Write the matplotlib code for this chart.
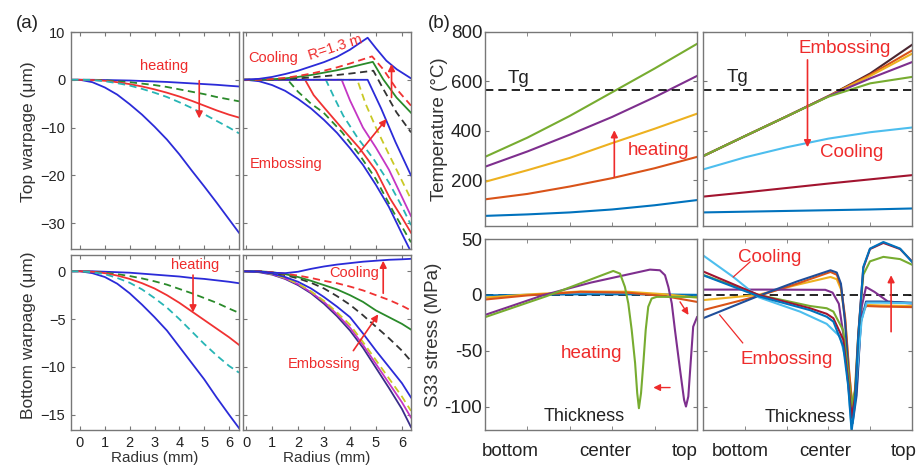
import matplotlib
matplotlib.use('Agg')
import matplotlib.pyplot as plt

plt.rcParams['font.family'] = ['Liberation Sans', 'DejaVu Sans']

# ---------------- (a) warpage data ----------------
xa = [-0.35, 0, 0.5, 1, 1.5, 2, 2.5, 3, 3.5, 4, 4.5, 5, 5.5, 6, 6.4]

# top warpage, heating
top_heat_big = [0, 0, -0.5, -1.6, -3.1, -5.1, -7.3, -9.8, -12.5, -15.6, -19.0, -22.3, -25.7, -29.2, -32.0]
top_heat_small = [0, 0, 0, -0.05, -0.1, -0.15, -0.25, -0.35, -0.45, -0.6, -0.75, -0.9, -1.05, -1.25, -1.4]
top_heat_green = [0, 0, 0, -0.1, -0.3, -0.5, -0.8, -1.1, -1.5, -2.0, -2.5, -3.0, -3.6, -4.1, -4.5]
top_heat_red = [0, 0, -0.05, -0.2, -0.5, -0.9, -1.4, -2.0, -2.7, -3.5, -4.4, -5.4, -6.4, -7.3, -7.9]
top_heat_cyan = [0, 0, -0.05, -0.3, -0.7, -1.2, -1.9, -2.7, -3.6, -4.7, -5.9, -7.2, -8.6, -10.0, -11.2]

# top warpage, embossing / cooling
xb = [-0.12, 0, 0.5, 1, 1.5, 2, 2.5, 3, 3.5, 4, 4.5, 5, 5.5, 6, 6.35]
emb_big = [0, 0, -0.3, -1.1, -2.3, -4.0, -6.0, -8.4, -11.1, -14.3, -17.8, -22.0, -26.6, -32.2, -36.0]

cool_blue_x = [-0.12, 0.5, 1, 1.5, 2, 2.5, 3, 3.5, 4, 4.35, 4.68, 5.0, 5.4, 5.8, 6.35]
cool_blue_y = [0, 0.2, 0.6, 1.2, 1.9, 2.8, 3.7, 4.8, 6.3, 7.6, 8.8, 6.6, 4.0, 2.2, 0.3]
cool_red_x = [-0.12, 0.5, 1, 1.5, 2, 2.5, 3, 3.5, 4, 4.45, 4.85, 5.28, 5.79, 6.35]
cool_red_y = [0, 0, 0.15, 0.4, 0.8, 1.3, 1.9, 2.6, 3.4, 4.2, 4.9, 2.2, -1.9, -5.4]
cool_green_x = [-0.12, 0.5, 1, 1.5, 2, 2.5, 3, 3.5, 4, 4.45, 4.88, 5.28, 5.79, 6.35]
cool_green_y = [0, 0, 0.1, 0.3, 0.6, 1.0, 1.5, 2.0, 2.6, 3.2, 3.75, 0.1, -3.7, -6.9]
cool_black_x = [-0.12, 0.5, 1, 1.5, 2, 2.5, 3, 3.5, 4, 4.45, 4.9, 5.28, 5.79, 6.35]
cool_black_y = [0, 0, 0.05, 0.15, 0.3, 0.5, 0.75, 1.0, 1.3, 1.6, 1.9, -1.9, -6.8, -11.0]

emb_blue_x = [-0.12, 4.68, 5.2, 5.75, 6.35]
emb_blue_y = [0, 0, -6.0, -13.0, -20.0]
emb_yellow_x = [-0.12, 4.28, 4.6, 5.0, 5.4, 5.9, 6.35]
emb_yellow_y = [0, 0, -5.0, -10.0, -14.5, -20.0, -25.0]
emb_magenta_x = [-0.12, 3.68, 4.0, 4.5, 5.0, 5.5, 6.0, 6.35]
emb_magenta_y = [0, 0, -4.3, -10.0, -14.2, -18.8, -24.5, -28.5]
emb_cyan_x = [-0.12, 3.07, 3.4, 3.74, 4.3, 4.9, 5.5, 6.0, 6.35]
emb_cyan_y = [0, 0, -3.8, -7.5, -12.2, -16.5, -21.5, -26.5, -30.4]
emb_red_x = [-0.12, 2.27, 2.6, 3.05, 3.7, 4.38, 5.0, 5.54, 6.0, 6.35]
emb_red_y = [0, 0, -3.2, -6.1, -10.2, -14.4, -19.0, -24.8, -28.8, -32.0]
emb_green_x = [-0.12, 1.6, 2.0, 2.5, 2.97, 3.7, 4.38, 5.0, 5.67, 6.35]
emb_green_y = [0, 0, -2.5, -5.0, -6.8, -11.0, -15.8, -20.8, -27.6, -34.0]

# bottom warpage, heating
bot_heat_big = [0, 0, -0.2, -0.6, -1.3, -2.3, -3.5, -4.8, -6.2, -7.9, -9.6, -11.3, -13.2, -15.0, -16.4]
bot_heat_small = [0, 0, 0, -0.05, -0.1, -0.15, -0.25, -0.35, -0.45, -0.55, -0.7, -0.8, -0.95, -1.1, -1.25]
bot_heat_green = [0, 0, -0.05, -0.15, -0.3, -0.5, -0.75, -1.05, -1.4, -1.85, -2.3, -2.8, -3.3, -3.9, -4.35]
bot_heat_red = [0, 0, -0.05, -0.2, -0.45, -0.8, -1.25, -1.8, -2.5, -3.3, -4.2, -5.1, -6.0, -6.9, -7.7]
bot_heat_cyan = [0, 0, -0.1, -0.3, -0.7, -1.2, -1.9, -2.8, -3.8, -5.0, -6.3, -7.6, -8.8, -9.9, -10.6]

# bottom warpage, embossing / cooling
xc = [-0.12, 0.5, 1, 1.5, 2, 2.5, 3, 3.5, 4, 4.5, 5, 5.5, 6, 6.35]
bot_cool_blue = [0, -0.02, -0.15, -0.2, -0.05, 0.25, 0.5, 0.7, 0.85, 1.0, 1.1, 1.2, 1.25, 1.3]
bot_cool_red = [0, 0, -0.1, -0.25, -0.45, -0.7, -1.0, -1.25, -1.6, -2.0, -2.5, -3.0, -3.6, -4.1]
bot_cool_green = [0, 0, -0.1, -0.3, -0.6, -1.0, -1.45, -1.9, -2.5, -3.2, -4.1, -4.8, -5.5, -6.1]
bot_cool_black = [0, 0, -0.15, -0.4, -0.75, -1.2, -1.8, -2.6, -3.5, -4.6, -5.8, -7.0, -8.3, -9.4]
bot_emb_blue = [0, -0.05, -0.25, -0.6, -1.1, -1.8, -2.7, -3.7, -4.8, -6.5, -8.3, -10.0, -11.7, -13.2]
bot_emb_yellow = [0, -0.05, -0.3, -0.7, -1.3, -2.1, -3.1, -4.3, -5.6, -7.4, -9.3, -11.2, -13.1, -14.6]
bot_emb_magenta = [0, -0.05, -0.3, -0.75, -1.35, -2.2, -3.2, -4.5, -5.9, -7.7, -9.7, -11.7, -13.7, -15.3]
bot_emb_big = [0, -0.1, -0.35, -0.8, -1.45, -2.3, -3.4, -4.7, -6.2, -8.0, -10.1, -12.2, -14.4, -16.3]

# ---------------- (b) temperature data ----------------
xt = [0, 0.2, 0.4, 0.6, 0.8, 1.0]
heat_green = [294, 372, 460, 556, 652, 752]
heat_purple = [254, 316, 384, 456, 536, 622]
heat_yellow = [193, 240, 290, 350, 408, 469]
heat_orange = [122, 144, 174, 208, 248, 294]
heat_blue = [55, 61, 69, 81, 98, 119]

emb_t_dark = [297, 378, 458, 540, 632, 748]
emb_t_orange = [297, 378, 458, 540, 627, 725]
emb_t_yellow = [297, 378, 458, 540, 622, 712]
emb_t_purple = [297, 378, 458, 540, 612, 678]
emb_t_green = [297, 378, 458, 538, 592, 618]
cool_t_cyan = [243, 292, 333, 368, 394, 413]
cool_t_darkred = [133, 150, 168, 186, 203, 220]
cool_t_blue = [69, 72, 75, 78, 81, 85]
tg = 566

# ---------------- (b) stress data ----------------
s_heat_green_x = [0, 0.29, 0.605, 0.637, 0.66, 0.676, 0.692, 0.708, 0.718, 0.726, 0.736, 0.747, 0.758, 0.77, 0.786, 0.81, 0.92, 1.0]
s_heat_green_y = [-20, -1.2, 21.4, 19, 7.1, -7.7, -31.5, -61, -88, -101.5, -88, -61, -31.5, -10.7, -3.3, -1.8, -1.8, -2.0]
s_heat_purple_x = [0, 0.275, 0.5, 0.778, 0.825, 0.849, 0.865, 0.881, 0.896, 0.92, 0.939, 0.948, 0.959, 0.97, 0.982, 1.0]
s_heat_purple_y = [-18, -0.3, 11, 22.6, 22, 17.6, 7, -7.7, -31.5, -67, -94, -100, -91, -61, -28.5, -20]
s_heat_x = [0, 0.2, 0.45, 0.67, 0.85, 1.0]
s_heat_orange = [-4.2, -0.5, 2.7, 2.0, -1.2, -6.3]
s_heat_yellow = [-2.5, 0.3, 3.0, 2.8, 0.5, -2.5]
s_heat_blue = [-0.5, 0, 0.5, 0.5, 0.3, 0]

s_x = [0, 0.265, 0.512, 0.592, 0.624, 0.671, 0.695, 0.711, 0.727, 0.743, 0.767, 0.799, 0.863, 0.943, 1.0]
s_cool_blue = [17.6, -1.2, -13.7, -19.6, -24, -46.4, -82, -122, -97, -37.5, 25, 41.4, 47.3, 41.4, 29.5]
s_cool_darkred = [21, 0, -12, -17, -21, -40, -78, -110, -92, -35, 24, 41, 46.5, 41, 30]
s_cool_green = [18, 0, -10, -12, -15, -32, -70, -100, -85, -35, 18, 30, 34, 32, 27]
s_cool_cyan_x = [0, 0.145, 0.265, 0.464, 0.592, 0.656, 0.687, 0.711, 0.735, 0.759, 0.783, 0.847, 1.0]
s_cool_cyan_y = [35.4, 16, -2.1, -15, -26, -37.5, -61, -120, -73, -22.6, -7, -7, -7.5]
s_emb_purple_x = [0, 0.3, 0.585, 0.62, 0.65, 0.675, 0.7, 0.716, 0.735, 0.76, 0.78, 0.82, 0.885, 1.0]
s_emb_purple_y = [4.7, 4.7, 4.5, 2, -8, -40, -90, -105, -85, -10, 7, 2.7, -6, -7.8]
s_emb_x = [0, 0.265, 0.45, 0.61, 0.64, 0.66, 0.68, 0.7, 0.716, 0.735, 0.755, 0.78, 0.85, 1.0]
s_emb_orange = [-13.7, -1, 10, 20.5, 18, 8, -20, -70, -103, -80, -20, -10, -10.5, -11]
s_emb_yellow = [-4.7, 0, 9, 16, 14, 5, -22, -72, -100, -78, -22, -9, -9.5, -10]
s_emb_blue = [-21, -1, 12, 22, 20, 10, -25, -80, -115, -90, -25, -6, -6, -7]

# ---------------- styles ----------------
RED = '#ee2b2b'
B, G, R, C, M, Y, K = '#2b2bd8', '#2a8a2a', '#f03232', '#27b5b5', '#c436c4', '#c9c925', '#333333'
DASH = (0, (4, 2.5))
MB, MO, MY, MP, MG, MC, MR = '#0072BD', '#D95319', '#EDB120', '#7E2F8E', '#77AC30', '#4DBEEE', '#A2142F'
SPINE = '#777777'
LWA = 1.3
LWB = 1.5

fig = plt.figure(figsize=(9.2, 4.66), dpi=100)


def box(x0, y0, x1, y1):
    return [x0 / 920, 1 - y1 / 466, (x1 - x0) / 920, (y1 - y0) / 466]


def style(ax, size):
    for s in ax.spines.values():
        s.set_color(SPINE)
        s.set_linewidth(1.0)
    ax.tick_params(direction='in', top=True, right=True, length=3, width=0.8,
                   color=SPINE, labelsize=size, labelcolor='#222222', pad=4)


def arrow(ax, start, end, lw=1.2):
    ax.annotate('', xy=end, xytext=start,
                arrowprops=dict(arrowstyle='-|>', color=RED, lw=lw,
                                mutation_scale=10, shrinkA=0, shrinkB=0))


# ---- (a) top-left
ax = fig.add_axes(box(71, 32, 239, 249))
style(ax, 10.5)
ax.plot(xa, top_heat_big, color=B, lw=LWA)
ax.plot(xa, top_heat_small, color=B, lw=LWA)
ax.plot(xa, top_heat_green, color=G, lw=LWA, ls=DASH)
ax.plot(xa, top_heat_red, color=R, lw=LWA)
ax.plot(xa, top_heat_cyan, color=C, lw=LWA, ls=DASH)
ax.set_xlim(-0.36, 6.4)
ax.set_ylim(-35.4, 10)
ax.set_xticks(range(7))
ax.set_yticks([-30, -20, -10, 0, 10])
ax.tick_params(labelbottom=False)
ax.text(3.4, 2.8, 'heating', color=RED, fontsize=10.5, ha='center', va='center')
arrow(ax, (4.8, -0.2), (4.8, -8.1))

# ---- (a) top-right
ax = fig.add_axes(box(243, 32, 411, 249))
style(ax, 10.5)
ax.plot(xb, emb_big, color=B, lw=LWA)
ax.plot(emb_green_x, emb_green_y, color=G, lw=LWA, ls=DASH)
ax.plot(emb_red_x, emb_red_y, color=R, lw=LWA)
ax.plot(emb_cyan_x, emb_cyan_y, color=C, lw=LWA, ls=DASH)
ax.plot(emb_magenta_x, emb_magenta_y, color=M, lw=LWA)
ax.plot(emb_yellow_x, emb_yellow_y, color=Y, lw=LWA, ls=DASH)
ax.plot(emb_blue_x, emb_blue_y, color=B, lw=LWA)
ax.plot(cool_black_x, cool_black_y, color=K, lw=LWA, ls=DASH)
ax.plot(cool_green_x, cool_green_y, color=G, lw=LWA)
ax.plot(cool_red_x, cool_red_y, color=R, lw=LWA, ls=DASH)
ax.plot(cool_blue_x, cool_blue_y, color=B, lw=LWA)
ax.set_xlim(-0.12, 6.35)
ax.set_ylim(-35.4, 10)
ax.set_xticks(range(7))
ax.set_yticks([-30, -20, -10, 0, 10])
ax.tick_params(labelbottom=False, labelleft=False)
ax.text(1.05, 4.65, 'Cooling', color=RED, fontsize=10.5, ha='center', va='center')
ax.text(3.42, 6.7, 'R=1.3 m', color=RED, fontsize=10.5, ha='center', va='center', rotation=18)
ax.text(1.56, -17.6, 'Embossing', color=RED, fontsize=10.5, ha='center', va='center')
arrow(ax, (5.6, -3.7), (5.6, 3.3))
arrow(ax, (4.38, -15.1), (5.41, -8.2))

# ---- (a) bottom-left
ax = fig.add_axes(box(71, 255, 239, 430))
style(ax, 10.5)
ax.plot(xa, bot_heat_big, color=B, lw=LWA)
ax.plot(xa, bot_heat_small, color=B, lw=LWA)
ax.plot(xa, bot_heat_green, color=G, lw=LWA, ls=DASH)
ax.plot(xa, bot_heat_red, color=R, lw=LWA)
ax.plot(xa, bot_heat_cyan, color=C, lw=LWA, ls=DASH)
ax.set_xlim(-0.36, 6.4)
ax.set_ylim(-16.6, 1.7)
ax.set_xticks(range(7))
ax.set_yticks([-15, -10, -5, 0])
ax.set_xlabel('Radius (mm)', fontsize=11, color='#333333', labelpad=1)
ax.text(4.64, 0.63, 'heating', color=RED, fontsize=10.5, ha='center', va='center')
arrow(ax, (4.55, -0.4), (4.55, -4.3))

# ---- (a) bottom-right
ax = fig.add_axes(box(243, 255, 411, 430))
style(ax, 10.5)
ax.plot(xc, bot_emb_big, color='#3a2d8a', lw=LWA)
ax.plot(xc, bot_emb_magenta, color=M, lw=LWA)
ax.plot(xc, bot_emb_yellow, color=Y, lw=LWA, ls=DASH)
ax.plot(xc, bot_emb_blue, color=B, lw=LWA)
ax.plot(xc, bot_cool_black, color=K, lw=LWA, ls=DASH)
ax.plot(xc, bot_cool_green, color=G, lw=LWA)
ax.plot(xc, bot_cool_red, color=R, lw=LWA, ls=DASH)
ax.plot(xc, bot_cool_blue, color=B, lw=LWA)
ax.set_xlim(-0.12, 6.35)
ax.set_ylim(-16.6, 1.7)
ax.set_xticks(range(7))
ax.set_yticks([-15, -10, -5, 0])
ax.tick_params(labelleft=False)
ax.set_xlabel('Radius (mm)', fontsize=11, color='#333333', labelpad=1)
ax.text(4.15, -0.15, 'Cooling', color=RED, fontsize=10.5, ha='center', va='center')
ax.text(3.0, -9.67, 'Embossing', color=RED, fontsize=10.5, ha='center', va='center')
arrow(ax, (5.28, -2.3), (5.28, 1.1))
arrow(ax, (4.13, -8.3), (5.09, -4.5))

fig.text(29 / 920, 1 - 132 / 466, 'Top warpage (\u03bcm)', rotation=90, fontsize=12.5,
         color='#333333', ha='center', va='center')
fig.text(29 / 920, 1 - 335 / 466, 'Bottom warpage (\u03bcm)', rotation=90, fontsize=12.5,
         color='#333333', ha='center', va='center')
fig.text(27 / 920, 1 - 23 / 466, '(a)', fontsize=13.5, color='#222222', ha='center', va='center')
fig.text(439 / 920, 1 - 24 / 466, '(b)', fontsize=13.5, color='#222222', ha='center', va='center')

# ---- (b) top-left
ax = fig.add_axes(box(485, 32, 697, 226))
style(ax, 13.5)
ax.tick_params(pad=2)
ax.plot(xt, heat_blue, color=MB, lw=LWB)
ax.plot(xt, heat_orange, color=MO, lw=LWB)
ax.plot(xt, heat_yellow, color=MY, lw=LWB)
ax.plot(xt, heat_purple, color=MP, lw=LWB)
ax.plot(xt, heat_green, color=MG, lw=LWB)
ax.axhline(tg, color='black', lw=1.2, ls=(0, (5, 3)))
ax.set_xlim(0, 1)
ax.set_ylim(14, 800)
ax.set_yticks([200, 400, 600, 800])
ax.set_xticks([])
ax.set_xticks([0.2, 0.4, 0.6, 0.8], minor=True)
ax.tick_params(which='minor', direction='in', top=True, length=3, color=SPINE)
ax.set_ylabel('Temperature (\u00b0C)', fontsize=13.5, color='#333333', labelpad=2)
ax.text(0.157, 611, 'Tg', fontsize=13.5, color='#222222', ha='center', va='center')
ax.text(0.817, 321, 'heating', color=RED, fontsize=13.5, ha='center', va='center')
arrow(ax, (0.61, 213), (0.61, 402))

# ---- (b) top-right
ax = fig.add_axes(box(703, 32, 912, 226))
style(ax, 13.5)
ax.plot(xt, cool_t_blue, color=MB, lw=LWB)
ax.plot(xt, cool_t_darkred, color=MR, lw=LWB)
ax.plot(xt, cool_t_cyan, color=MC, lw=LWB)
ax.plot(xt, emb_t_dark, color='#4a2630', lw=LWB)
ax.plot(xt, emb_t_orange, color=MO, lw=LWB)
ax.plot(xt, emb_t_yellow, color=MY, lw=LWB)
ax.plot(xt, emb_t_purple, color=MP, lw=LWB)
ax.plot(xt, emb_t_green, color=MG, lw=LWB)
ax.axhline(tg, color='black', lw=1.2, ls=(0, (5, 3)))
ax.set_xlim(0, 1)
ax.set_ylim(14, 800)
ax.set_yticks([200, 400, 600, 800])
ax.tick_params(labelleft=False)
ax.set_xticks([])
ax.set_xticks([0.2, 0.4, 0.6, 0.8], minor=True)
ax.tick_params(which='minor', direction='in', top=True, length=3, color=SPINE)
ax.text(0.163, 615, 'Tg', fontsize=13.5, color='#222222', ha='center', va='center')
ax.text(0.68, 732, 'Embossing', color=RED, fontsize=13.5, ha='center', va='center')
ax.text(0.712, 310, 'Cooling', color=RED, fontsize=13.5, ha='center', va='center')
arrow(ax, (0.5, 687), (0.5, 333))

# ---- (b) bottom-left
ax = fig.add_axes(box(485, 239, 697, 430))
style(ax, 13.5)
ax.tick_params(pad=2)
ax.axhline(0, color='black', lw=1.2, ls=(0, (5, 3)))
ax.plot(s_heat_x, s_heat_blue, color=MB, lw=LWB)
ax.plot(s_heat_x, s_heat_yellow, color=MY, lw=LWB)
ax.plot(s_heat_x, s_heat_orange, color=MO, lw=LWB)
ax.plot(s_heat_purple_x, s_heat_purple_y, color=MP, lw=LWB)
ax.plot(s_heat_green_x, s_heat_green_y, color=MG, lw=LWB)
ax.set_xlim(0, 1)
ax.set_ylim(-121, 50)
ax.set_yticks([50, 0, -50, -100], ['50', '0', '-50', '-100'])
ax.set_xticks([0.118, 0.566, 0.943], ['bottom', 'center', 'top'])
ax.tick_params(axis='x', which='major', length=0, pad=9)
ax.set_xticks([0.2, 0.4, 0.6, 0.8], minor=True)
ax.tick_params(which='minor', direction='in', top=True, length=3, color=SPINE)
ax.set_ylabel('S33 stress (MPa)', fontsize=13.5, color='#333333', labelpad=2)
ax.text(0.503, -52.4, 'heating', color=RED, fontsize=13.5, ha='center', va='center')
ax.text(0.47, -109, 'Thickness', color='#222222', fontsize=13, ha='center', va='center')
arrow(ax, (0.92, -6.3), (0.96, -18), lw=1.0)
arrow(ax, (0.873, -83), (0.794, -83), lw=1.0)

# ---- (b) bottom-right
ax = fig.add_axes(box(703, 239, 912, 430))
style(ax, 13.5)
ax.axhline(0, color='black', lw=1.2, ls=(0, (5, 3)))
ax.plot(s_emb_x, s_emb_yellow, color=MY, lw=LWB)
ax.plot(s_emb_x, s_emb_orange, color=MO, lw=LWB)
ax.plot(s_emb_purple_x, s_emb_purple_y, color=MP, lw=LWB)
ax.plot(s_emb_x, s_emb_blue, color='#1f4e9a', lw=LWB)
ax.plot(s_cool_cyan_x, s_cool_cyan_y, color=MC, lw=LWB)
ax.plot(s_x, s_cool_green, color=MG, lw=LWB)
ax.plot(s_x, s_cool_darkred, color=MR, lw=LWB)
ax.plot(s_x, s_cool_blue, color=MB, lw=LWB)
ax.set_xlim(0, 1)
ax.set_ylim(-121, 50)
ax.set_yticks([50, 0, -50, -100])
ax.tick_params(labelleft=False)
ax.set_xticks([0.177, 0.584, 0.958], ['bottom', 'center', 'top'])
ax.tick_params(axis='x', which='major', length=0, pad=9)
ax.set_xticks([0.2, 0.4, 0.6, 0.8], minor=True)
ax.tick_params(which='minor', direction='in', top=True, length=3, color=SPINE)
ax.text(0.32, 33.3, 'Cooling', color=RED, fontsize=13.5, ha='center', va='center')
ax.text(0.40, -57.8, 'Embossing', color=RED, fontsize=13.5, ha='center', va='center')
ax.text(0.49, -110, 'Thickness', color='#222222', fontsize=13, ha='center', va='center')
ax.plot([0.225, 0.145], [29.5, 16], color=RED, lw=0.9)
ax.plot([0.19, 0.08], [-43, -18], color=RED, lw=0.9)
arrow(ax, (0.9, -33), (0.9, 17.6))

fig.savefig('out.png', dpi=100)
